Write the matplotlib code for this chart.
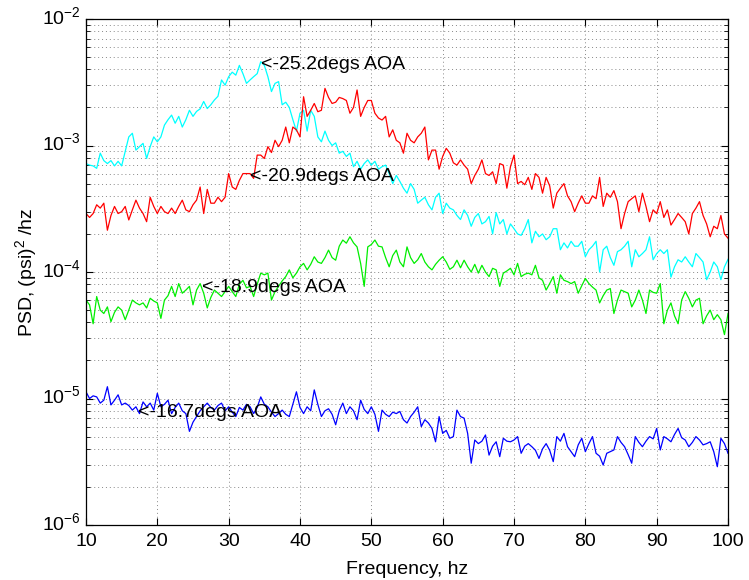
import numpy as np
import matplotlib
matplotlib.use("Agg")
from matplotlib import pyplot as plt
from matplotlib import transforms as mtransforms
from matplotlib.ticker import LogLocator, NullFormatter, MultipleLocator

plt.rcParams['font.family'] = ['Liberation Sans', 'DejaVu Sans']
plt.rcParams['mathtext.fontset'] = 'custom'
plt.rcParams['mathtext.rm'] = 'Liberation Sans'
plt.rcParams['mathtext.it'] = 'Liberation Sans:italic'

# PSD, 0.5 hz steps from 10 to 100 hz
# cyan, -25.2 degs AOA (x 1e-4)
psd_252 = [
    7.2, 7.0, 6.9, 6.6, 8.7, 7.6, 7.2, 7.6, 6.9, 7.5, 6.9, 9.0, 11.7, 12.5, 9.2, 9.8, 10.4, 7.9, 9.8, 11.7,
    10.7, 11.7, 14.5, 16, 17.4, 15, 17, 14, 16, 19, 17, 18.6, 19.5, 22.3, 19.6, 21, 22.9, 24.5, 33, 30,
    35, 38, 36, 43, 37, 31, 33, 35, 37, 46, 43, 35, 26.7, 31, 32, 21, 22, 20, 16, 13,
    18, 19, 13, 19, 17, 11.7, 10.7, 13, 11, 10, 10.5, 8.7, 9, 8.2, 8.7, 6.8, 7.5, 6.5, 7.2, 7.7,
    7.0, 7.5, 6.5, 6.8, 7.0, 6.0, 5.0, 5.8, 5.2, 4.6, 4.2, 5.0, 4.5, 3.5, 3.7, 3.9, 3.4, 3.1, 3.9, 4.2,
    2.9, 3.5, 3.2, 3.1, 2.8, 2.6, 3.1, 2.8, 2.3, 2.7, 2.9, 2.4, 2.5, 2.75, 2.0, 2.95, 2.4, 2.6, 2.0, 2.4,
    2.2, 2.0, 1.95, 2.2, 2.6, 1.7, 2.1, 1.9, 2.0, 1.8, 1.9, 2.2, 2.2, 1.5, 1.7, 1.55, 1.75, 1.6, 1.6, 1.75,
    1.32, 1.5, 1.6, 1.75, 1.0, 1.5, 1.6, 1.3, 1.13, 1.45, 1.5, 1.6, 1.75, 1.1, 1.5, 1.32, 1.4, 1.5, 1.9, 1.25,
    1.4, 1.5, 1.4, 1.5, 0.91, 1.1, 1.25, 1.2, 1.32, 1.2, 1.1, 1.4, 1.3, 1.2, 0.87, 1.0, 1.2, 1.1, 0.87, 1.1,
    1.26]

# red, -20.9 degs AOA (x 1e-4)
psd_209 = [
    2.9, 2.7, 2.9, 3.4, 3.2, 3.5, 2.14, 2.8, 3.3, 2.9, 3.0, 3.3, 2.58, 3.1, 3.7, 3.2, 2.9, 2.5, 3.9, 3.3,
    2.9, 3.3, 3.0, 2.9, 3.2, 2.9, 3.3, 3.7, 3.1, 3.0, 3.4, 3.7, 4.7, 2.9, 4.5, 3.5, 3.5, 3.9, 3.6, 3.9,
    6.0, 4.7, 4.5, 5.3, 6.0, 6.0, 6.0, 5.5, 8.4, 8.4, 7.9, 9.8, 8.8, 11, 9.8, 11, 14, 10.5, 14, 13.3,
    11.7, 24.3, 17, 19, 21.5, 18.5, 19, 28.3, 24, 21.5, 22, 24, 23.5, 22.7, 18, 20, 27.5, 17, 20, 22.7,
    22.7, 18, 16.5, 15.9, 17, 11.7, 13.3, 11, 10.5, 8.7, 12.5, 11, 10.5, 11.7, 12.5, 14, 7.7, 9.2, 9.2, 6.5,
    8.2, 9.5, 8.7, 7.3, 7.0, 7.7, 7.0, 6.5, 5.0, 5.8, 6.5, 7.7, 6.0, 5.8, 6.2, 5.0, 7.2, 7.0, 4.6, 6.8,
    8.4, 5.0, 5.2, 4.9, 5.6, 4.5, 6.0, 5.6, 4.2, 5.6, 4.8, 3.2, 4.2, 4.6, 5.0, 4.0, 3.6, 3.0, 3.5, 4.0,
    3.5, 3.5, 4.0, 3.8, 5.6, 3.3, 4.2, 3.9, 4.4, 3.6, 2.2, 2.9, 3.6, 3.8, 4.0, 3.0, 4.2, 3.3, 2.5, 3.1,
    2.9, 3.6, 2.7, 3.1, 2.35, 2.6, 2.9, 2.7, 2.5, 2.0, 2.9, 3.2, 3.6, 2.8, 2.4, 1.9, 2.3, 2.2, 2.8, 2.0,
    1.85]

# green, -18.9 degs AOA (x 1e-5)
psd_189 = [
    6.0, 5.5, 3.9, 6.4, 5.0, 4.7, 5.3, 4.05, 4.8, 5.3, 5.0, 4.2, 5.0, 6.0, 5.7, 5.5, 5.7, 5.2, 6.2, 5.9,
    5.7, 4.3, 6.0, 6.5, 7.7, 6.4, 8.1, 6.8, 7.2, 7.7, 5.5, 7.2, 8.1, 6.8, 5.2, 6.3, 7.2, 6.8, 6.4, 7.0,
    7.7, 7.0, 6.4, 8.0, 8.6, 7.5, 7.7, 6.4, 8.0, 9.8, 9.5, 9.8, 6.0, 7.0, 7.7, 8.5, 9.2, 10.4, 9.0, 9.8,
    11.0, 11.7, 10.4, 11.5, 13.2, 12.0, 11.7, 13.0, 14.9, 13.0, 12.4, 16.0, 17.9, 16.9, 19.0, 17.0, 15.8, 11.7, 7.7, 15.8,
    16.5, 17.9, 16.0, 15.8, 13.0, 11.0, 13.5, 14.9, 12.0, 11.0, 15.8, 13.0, 11.7, 12.5, 14.0, 12.0, 11.0, 10.4, 11.5, 12.4,
    13.2, 12.0, 10.5, 11.0, 12.4, 10.8, 12.4, 11.0, 10.0, 11.5, 9.8, 11.3, 10.0, 9.2, 10.7, 10.4, 7.7, 9.8, 10.2, 10.7,
    9.5, 11.7, 9.2, 9.6, 9.8, 9.5, 11.3, 9.0, 8.6, 7.2, 8.1, 9.2, 6.8, 9.5, 8.6, 8.4, 8.1, 8.4, 6.8, 7.8,
    8.9, 8.1, 7.6, 7.2, 5.7, 6.5, 7.2, 7.4, 4.7, 6.0, 7.2, 7.0, 6.8, 5.3, 6.0, 7.2, 6.0, 4.7, 7.2, 6.9,
    6.8, 8.1, 3.9, 5.0, 5.7, 4.5, 3.9, 6.0, 7.0, 6.2, 5.3, 6.0, 6.2, 3.9, 4.5, 5.0, 4.2, 4.6, 4.2, 3.2,
    4.7]

# blue, -16.7 degs AOA (x 1e-6)
psd_167 = [
    11.3, 10.0, 10.5, 10.3, 9.2, 9.7, 12.4, 8.9, 9.7, 10.7, 8.9, 9.2, 8.8, 8.1, 8.6, 7.6, 9.4, 8.6, 9.2, 8.1,
    11.0, 8.6, 9.0, 9.7, 7.6, 8.5, 9.2, 8.0, 7.6, 5.5, 6.5, 7.2, 8.0, 8.6, 9.2, 8.5, 8.1, 8.8, 9.2, 8.0,
    8.6, 7.8, 7.2, 8.5, 8.1, 9.0, 8.6, 7.6, 8.5, 10.3, 9.0, 8.6, 7.8, 7.2, 7.6, 8.1, 7.5, 7.2, 9.0, 11.3,
    8.5, 7.6, 8.6, 8.0, 11.7, 9.0, 7.2, 8.0, 8.3, 7.5, 6.2, 8.0, 9.2, 7.6, 8.6, 8.0, 6.8, 9.7, 8.2, 7.6,
    8.6, 7.5, 5.5, 8.1, 7.5, 7.2, 7.8, 7.6, 7.9, 6.8, 6.4, 7.2, 7.8, 8.6, 6.0, 6.8, 6.4, 5.8, 4.55, 7.2,
    5.3, 5.6, 4.85, 5.0, 8.1, 7.2, 7.0, 5.3, 3.08, 4.7, 4.4, 4.6, 5.15, 3.57, 4.2, 4.55, 3.47, 4.85, 4.6, 4.55,
    4.7, 5.0, 3.69, 4.2, 4.4, 4.16, 3.9, 3.36, 4.0, 4.4, 3.9, 3.17, 5.0, 4.6, 5.3, 4.16, 3.8, 3.47, 4.3, 4.85,
    3.8, 4.4, 5.0, 3.69, 3.5, 2.98, 3.69, 3.8, 3.92, 5.0, 4.5, 4.16, 3.6, 3.08, 5.0, 4.5, 4.16, 4.6, 5.0, 4.8,
    5.8, 3.92, 5.0, 4.8, 4.55, 5.2, 5.8, 4.9, 4.7, 4.16, 4.5, 5.0, 4.7, 4.3, 4.4, 4.55, 3.8, 2.89, 4.85, 4.4,
    3.69]

labels = ['<-25.2degs AOA', '<-20.9degs AOA', '<-18.9degs AOA', '<-16.7degs AOA']
label_x = [34.6, 33.0, 26.3, 17.3]
label_y = [4.4e-3, 5.7e-4, 7.6e-5, 7.8e-6]

fig = plt.figure(figsize=(7.49, 5.80), dpi=100)
ax = fig.add_axes([0.1148, 0.0948, 0.8572, 0.8724])

series = [(psd_252, 1e-4, '#00ffff'), (psd_209, 1e-4, '#ff0000'),
          (psd_189, 1e-5, '#00ee00'), (psd_167, 1e-6, '#0000ff')]
for vals, scale, col in series:
    f = np.linspace(10, 100, len(vals))
    ax.semilogy(f, np.array(vals) * scale, color=col, lw=0.9)

for txt, x, y in zip(labels, label_x, label_y):
    ax.text(x, y, txt, fontsize=14, va='center', ha='left')

ax.set_xlim(10, 100)
ax.set_ylim(1e-6, 1e-2)
ax.xaxis.set_major_locator(MultipleLocator(10))
ax.yaxis.set_minor_locator(LogLocator(base=10, subs=np.arange(2, 10)))
ax.yaxis.set_minor_formatter(NullFormatter())

# matlab style grid
grid_style = dict(color='#888888', linestyle=(0, (1, 3)), lw=0.7)
ax.grid(True, which='major', axis='both', **grid_style)
ax.grid(True, which='minor', axis='y', **grid_style)

ax.tick_params(which='both', direction='in', top=True, right=True, labelsize=14)
ax.tick_params(axis='x', pad=6)
ax.tick_params(which='major', length=5)
ax.tick_params(which='minor', length=3)
for sp in ax.spines.values():
    sp.set_linewidth(0.9)

# put the base of 10^n on the tick, like matlab does
shift = mtransforms.ScaledTranslation(0, 3 / 72, fig.dpi_scale_trans)
for t in ax.yaxis.get_major_ticks():
    t.label1.set_transform(t.label1.get_transform() + shift)

ax.set_xlabel('Frequency, hz', fontsize=14, labelpad=8)
ax.set_ylabel('PSD, (psi)$^2$ /hz', fontsize=14, labelpad=2)

fig.savefig('out.png', dpi=100)
